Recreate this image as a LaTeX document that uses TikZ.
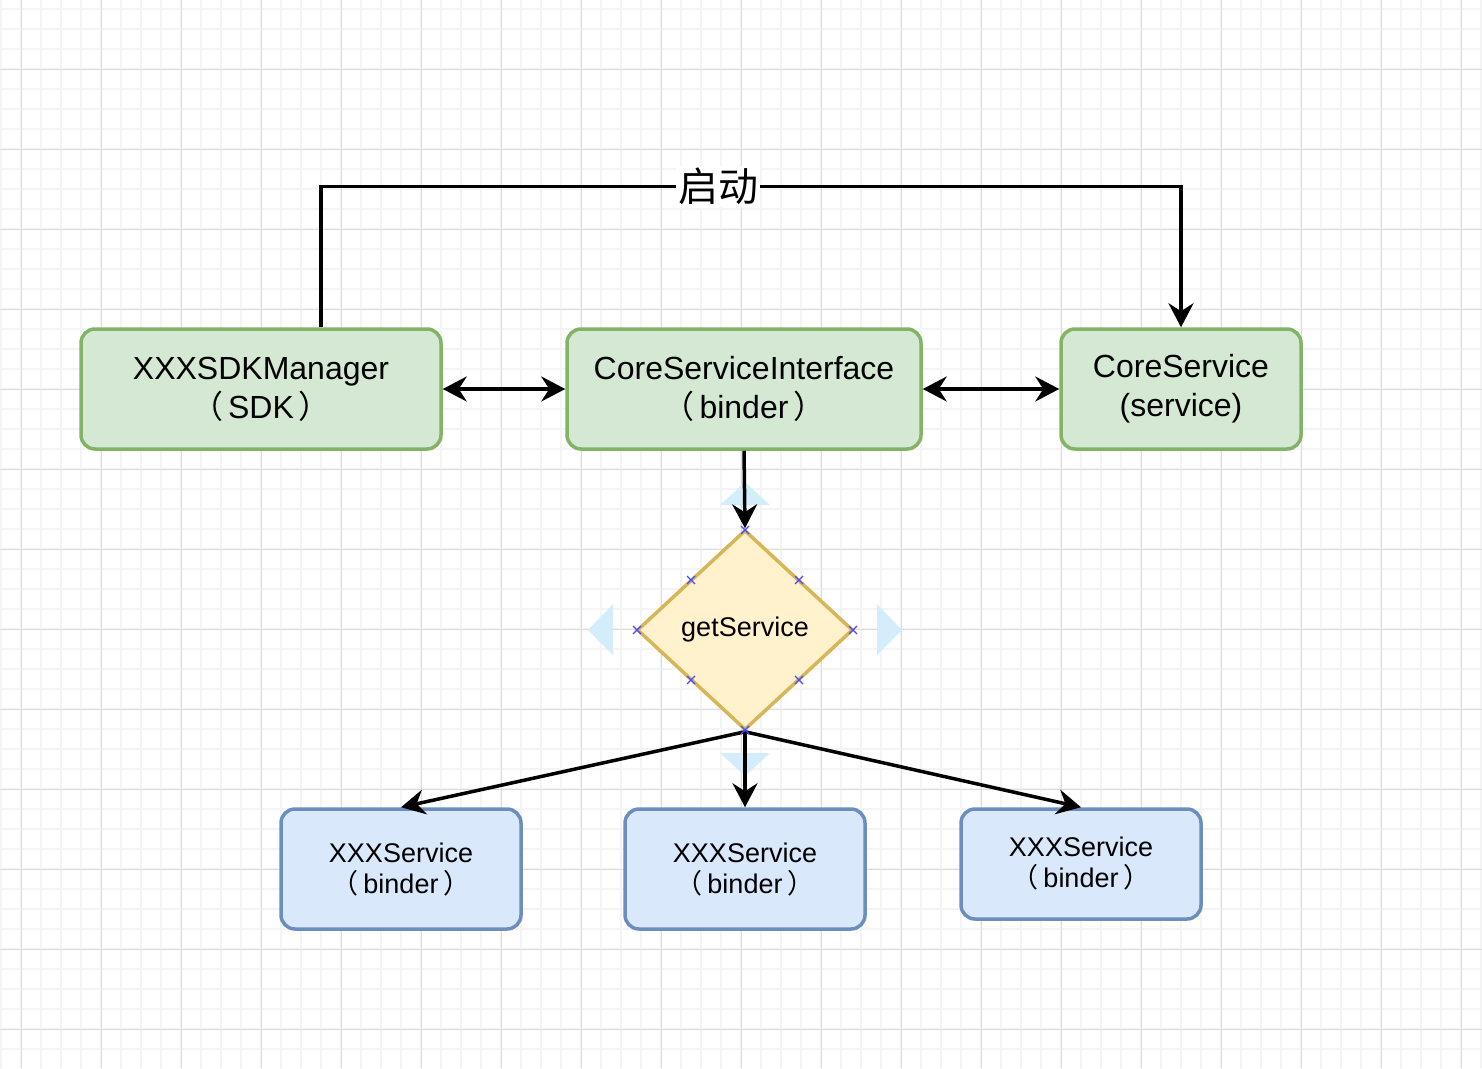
\documentclass[tikz,border=0pt]{standalone}
\usepackage{fontspec}
\setmainfont{Liberation Sans}
\newfontfamily\cjk{Noto Sans CJK SC}
\usetikzlibrary{arrows.meta,shapes.geometric}
\definecolor{gfill}{HTML}{D5E8D4}
\definecolor{gline}{HTML}{82B366}
\definecolor{yfill}{HTML}{FFF2CC}
\definecolor{yline}{HTML}{D6B656}
\definecolor{bfill}{HTML}{DAE8FC}
\definecolor{bline}{HTML}{6C8EBF}
\definecolor{gridminor}{HTML}{F4F4F4}
\definecolor{gridmajor}{HTML}{DCDCDC}
\definecolor{handle}{HTML}{D3EEFA}
\definecolor{xmark}{HTML}{4A4AFF}
\newcommand{\lp}{{\cjk （}\kern5pt}
\newcommand{\rp}{\kern5pt{\cjk ）}}
\tikzset{
  greenbox/.style={draw=gline,fill=gfill,line width=3.5pt,rounded corners=14pt,inner sep=0pt,align=center,font=\fontsize{32}{38}\selectfont},
  bluebox/.style={draw=bline,fill=bfill,line width=3.5pt,rounded corners=14pt,inner sep=0pt,align=center,font=\fontsize{27}{31}\selectfont},
  decision/.style={diamond,draw=yline,fill=yfill,line width=3.5pt,inner sep=0pt,font=\fontsize{27}{32}\selectfont},
  tip/.tip={Stealth[length=24pt,width=25pt,inset=8pt]},
  arr/.style={line width=3.5pt,-tip},
  biarr/.style={line width=3.5pt,tip-tip},
  xm/.style={draw=xmark,line width=1.2pt},
}
\begin{document}
\begin{tikzpicture}[x=1pt,y=-1pt]
\useasboundingbox (0,0) rectangle (1482,1068);
\fill[white] (0,0) rectangle (1482,1068);
% grid
\foreach \x in {1,21,...,1481} \draw[gridminor,line width=1.5pt] (\x,0) -- (\x,1068);
\foreach \y in {9,29,...,1068} \draw[gridminor,line width=1.5pt] (0,\y) -- (1482,\y);
\foreach \x in {21,101,...,1481} \draw[gridmajor,line width=1pt] (\x,0) -- (\x,1068);
\foreach \y in {69,149,...,1068} \draw[gridmajor,line width=1pt] (0,\y) -- (1482,\y);
% selection handles (light blue triangles)
\fill[handle] (745,482) -- (770,505) -- (720,505) -- cycle;
\fill[handle] (745,776) -- (770,753) -- (720,753) -- cycle;
\fill[handle] (588,630) -- (613,604) -- (613,655) -- cycle;
\fill[handle] (902,630) -- (877,604) -- (877,655) -- cycle;
% nodes
\node[greenbox,minimum width=360pt,minimum height=120pt] (sdk) at (261,389) {XXXSDKManager\\[1pt]\lp SDK\rp};
\node[greenbox,minimum width=354pt,minimum height=120pt] (csi) at (744,389) {CoreServiceInterface\\[1pt]\lp binder\rp};
\node[greenbox,minimum width=240pt,minimum height=120pt] (cs) at (1181,389) {CoreService\\[1pt](service)};
\node[decision,minimum width=216pt,minimum height=200pt] (d) at (745,630) {getService};
\node[bluebox,minimum width=240pt,minimum height=120pt] (b1) at (401,869) {XXXService\\\lp binder\rp};
\node[bluebox,minimum width=240pt,minimum height=120pt] (b2) at (745,869) {XXXService\\\lp binder\rp};
\node[bluebox,minimum width=240pt,minimum height=110pt] (b3) at (1081,864) {XXXService\\\lp binder\rp};
% connectors
\draw[arr] ([xshift=60pt]sdk.north) -- ++(0,-141) -| node[pos=0.231,fill=white,inner sep=2pt,font=\cjk\fontsize{40}{48}\selectfont]{启动} (cs.north);
\draw[biarr] (sdk.east) -- (csi.west);
\draw[biarr] (csi.east) -- (cs.west);
\draw[arr] (csi.south) -- (d.north);
\draw[arr] (d.south) -- (b1.north);
\draw[arr] (d.south) -- (b2.north);
\draw[arr] (d.south) -- (b3.north);
% connection point marks
\foreach \p in {(745,530),(745,730),(637,630),(853,630),(691,580),(799,580),(691,680),(799,680)}
  \draw[xm] \p ++(-4,-4) -- ++(8,8) \p ++(-4,4) -- ++(8,-8);
\end{tikzpicture}
\end{document}
